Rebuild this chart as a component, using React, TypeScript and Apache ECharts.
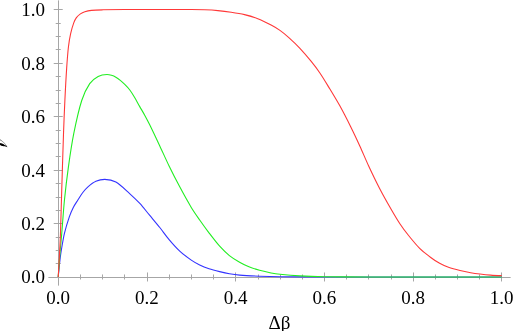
import React, { useEffect, useRef } from "react";
import * as echarts from "echarts";

const redX = [0, 0.003, 0.005, 0.008, 0.012, 0.015, 0.019, 0.023, 0.028, 0.035, 0.041, 0.05, 0.06, 0.075, 0.1, 0.15, 0.2, 0.25, 0.3, 0.33, 0.36, 0.39, 0.42, 0.45, 0.48, 0.5, 0.52, 0.545, 0.57, 0.59, 0.61, 0.635, 0.66, 0.68, 0.7, 0.725, 0.75, 0.77, 0.79, 0.815, 0.84, 0.86, 0.88, 0.906, 0.93, 0.951, 0.975, 1.0];
const redY = [0, 0.09, 0.16, 0.33, 0.54, 0.66, 0.78, 0.86, 0.91, 0.95, 0.97, 0.984, 0.992, 0.997, 0.999, 1.0, 1.0, 1.0, 1.0, 0.999, 0.996, 0.99, 0.981, 0.966, 0.942, 0.922, 0.895, 0.855, 0.807, 0.763, 0.71, 0.64, 0.56, 0.49, 0.415, 0.33, 0.255, 0.2, 0.155, 0.107, 0.073, 0.051, 0.036, 0.024, 0.016, 0.011, 0.007, 0.005];

const greenX = [0, 0.004, 0.008, 0.014, 0.023, 0.035, 0.053, 0.071, 0.09, 0.11, 0.12, 0.13, 0.14, 0.15, 0.161, 0.172, 0.1835, 0.195, 0.206, 0.229, 0.25, 0.274, 0.3, 0.319, 0.34, 0.364, 0.386, 0.409, 0.43, 0.454, 0.48, 0.5, 0.545, 0.6, 0.7, 0.8, 0.9, 1.0];
const greenY = [0, 0.09, 0.164, 0.287, 0.412, 0.536, 0.66, 0.723, 0.75, 0.757, 0.754, 0.747, 0.735, 0.72, 0.7, 0.672, 0.638, 0.605, 0.57, 0.49, 0.415, 0.337, 0.26, 0.213, 0.165, 0.115, 0.08, 0.055, 0.038, 0.025, 0.015, 0.01, 0.004, 0.001, 0, 0, 0, 0];

const blueX = [0, 0.004, 0.007, 0.014, 0.025, 0.034, 0.044, 0.055, 0.067, 0.085, 0.105, 0.13, 0.161, 0.184, 0.206, 0.229, 0.25, 0.274, 0.3, 0.319, 0.34, 0.364, 0.386, 0.409, 0.454, 0.5, 0.6, 0.7, 0.8, 0.9, 1.0];
const blueY = [0, 0.065, 0.1, 0.163, 0.225, 0.26, 0.287, 0.315, 0.337, 0.358, 0.365, 0.355, 0.312, 0.275, 0.231, 0.185, 0.14, 0.097, 0.063, 0.045, 0.031, 0.02, 0.012, 0.007, 0.003, 0.001, 0, 0, 0, 0, 0];

const majorTicks = [0, 0.2, 0.4, 0.6, 0.8, 1.0];
const minorTicks = [0.05, 0.1, 0.15, 0.25, 0.3, 0.35, 0.45, 0.5, 0.55, 0.65, 0.7, 0.75, 0.85, 0.9, 0.95];

const xName = "Δβ";
const yName = "𝒱";

const X_MIN = -0.0208;
const X_MAX = 1.0187;
const Y_MIN = -0.03;
const Y_MAX = 1.032;

const FRAME = "#a6a6a6";
const SERIF = "Liberation Serif";

function zip(xs: number[], ys: number[]) {
  return xs.map((x, i) => [x, ys[i]]);
}

export default function App() {
  const ref = useRef<HTMLDivElement>(null);
  useEffect(() => {
    if (!ref.current) return;
    const chart = echarts.init(ref.current, null, { renderer: "svg" });
    const mkX = (position: string, major: boolean, labels: boolean, withName: boolean, line: boolean) => ({
      type: "value",
      position,
      min: X_MIN,
      max: X_MAX,
      name: withName ? xName : "",
      nameLocation: "middle",
      nameGap: 12,
      nameTextStyle: { fontFamily: SERIF, fontSize: 19, color: "#000", lineHeight: 22 },
      axisLine: { show: line, lineStyle: { color: FRAME, width: 1 } },
      axisTick: {
        show: true,
        inside: true,
        length: major ? 4.5 : 2.5,
        lineStyle: { color: FRAME, width: 1 },
        customValues: major ? majorTicks : minorTicks,
      },
      axisLabel: {
        show: labels,
        customValues: majorTicks,
        formatter: (v: number) => v.toFixed(1),
        fontFamily: SERIF,
        fontSize: 19,
        color: "#000",
        margin: 3,
      },
      splitLine: { show: false },
    });
    const mkY = (position: string, major: boolean, labels: boolean, withName: boolean, line: boolean) => ({
      type: "value",
      position,
      min: Y_MIN,
      max: Y_MAX,
      name: withName ? yName : "",
      nameLocation: "middle",
      nameGap: 22,
      nameTextStyle: { fontFamily: SERIF, fontSize: 18, color: "#000", fontWeight: "normal" },
      axisLine: { show: line, lineStyle: { color: FRAME, width: 1 } },
      axisTick: {
        show: true,
        inside: true,
        length: major ? 4.5 : 2.5,
        lineStyle: { color: FRAME, width: 1 },
        customValues: major ? majorTicks : minorTicks,
      },
      axisLabel: {
        show: labels,
        customValues: majorTicks,
        formatter: (v: number) => v.toFixed(1),
        fontFamily: SERIF,
        fontSize: 19,
        color: "#000",
        margin: 4,
      },
      splitLine: { show: false },
    });
    const lineSeries = (name: string, xs: number[], ys: number[], color: string) => ({
      name,
      type: "line",
      data: zip(xs, ys),
      showSymbol: false,
      smooth: 0.3,
      lineStyle: { color, width: 1.1 },
      itemStyle: { color },
    });
    chart.setOption({
      animation: false,
      textStyle: { fontFamily: SERIF },
      grid: { left: 49, right: 5, top: 1, bottom: 46, containLabel: false, outerBoundsMode: "none" },
      xAxis: [
        mkX("bottom", true, true, true, true),
        mkX("bottom", false, false, false, false),
        mkX("top", true, false, false, true),
        mkX("top", false, false, false, false),
      ],
      yAxis: [
        mkY("left", true, true, true, true),
        mkY("left", false, false, false, false),
        mkY("right", true, false, false, true),
        mkY("right", false, false, false, false),
      ],
      series: [
        lineSeries("blue", blueX, blueY, "#3333ff"),
        lineSeries("green", greenX, greenY, "#22ee22"),
        lineSeries("red", redX, redY, "#ff3838"),
      ],
    });
    return () => chart.dispose();
  }, []);
  return <div ref={ref} style={{ position: "fixed", left: 0, top: 0, width: 515, height: 331 }} />;
}
